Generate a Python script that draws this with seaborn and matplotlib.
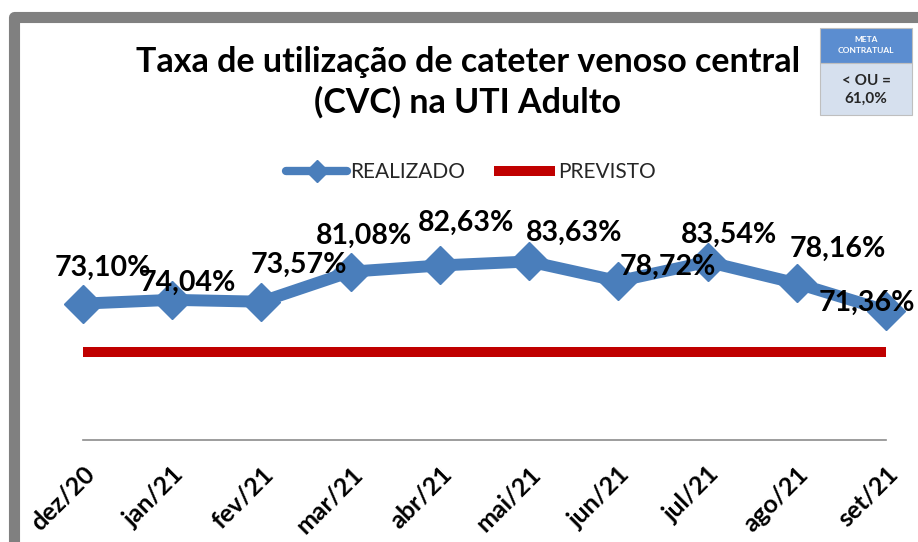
import matplotlib
matplotlib.use("Agg")
import matplotlib.pyplot as plt
from matplotlib.patches import Rectangle
import pandas as pd
import seaborn as sns

meses = ["dez/20", "jan/21", "fev/21", "mar/21", "abr/21", "mai/21",
         "jun/21", "jul/21", "ago/21", "set/21"]
realizado = [73.10, 74.04, 73.57, 81.08, 82.63, 83.63, 78.72, 83.54, 78.16, 71.36]
previsto = [61.0, 61.0, 61.0, 61.0, 61.0, 61.0, 61.0, 61.0, 61.0, 61.0]
titulo = "Taxa de utilização de cateter venoso central\n(CVC) na UTI Adulto"
meta_cab = "META\nCONTRATUAL"
meta_val = "< OU =\n61,0%"

# deslocamento dos rotulos em pixels (x para direita, y para baixo)
rot_dx = [20, 16, 37, 13, 26, 45, 49, 21, 41, -19]
rot_dy = [-36, -17, -37, -36, -43, -29, -14, -27, -35, -8]

AZUL = "#4A7EBB"
VERMELHO = "#C00000"
W, H = 918, 542

sns.set_theme(style="white")
plt.rcParams["font.family"] = ["Lato", "DejaVu Sans"]

df = pd.DataFrame({"mes": meses, "realizado": realizado, "previsto": previsto})

fig = plt.figure(figsize=(W / 100, H / 100), dpi=100)
ax = fig.add_axes([83 / W, (H - 440) / H, 803 / W, 240 / H])

sns.lineplot(data=df, x="mes", y="previsto", color=VERMELHO, linewidth=7.2,
             solid_capstyle="butt", sort=False, ax=ax, label="PREVISTO")
sns.lineplot(data=df, x="mes", y="realizado", color=AZUL, linewidth=8.6,
             marker="D", markersize=19, markeredgecolor=AZUL, markeredgewidth=1,
             sort=False, ax=ax, label="REALIZADO")
for ln in ax.lines:
    ln.set_clip_on(False)

for i, v in enumerate(realizado):
    txt = f"{v:.2f}".replace(".", ",") + "%"
    ax.annotate(txt, (i, v), xytext=(rot_dx[i] * 0.72, -rot_dy[i] * 0.72),
                textcoords="offset points", ha="center", va="center",
                fontsize=20.5, fontweight="bold", color="black", annotation_clip=False)

ax.set_xlim(0, len(meses) - 1)
ax.set_ylim(39, 99)
ax.set_xlabel("")
ax.set_ylabel("")
ax.set_yticks([])
for s in ["top", "left", "right"]:
    ax.spines[s].set_visible(False)
ax.spines["bottom"].set_color("#8C8C8C")
ax.spines["bottom"].set_linewidth(1.2)
ax.tick_params(axis="x", length=0, pad=16)
ax.set_xticks(range(len(meses)))
ax.set_xticklabels(meses, rotation=45, ha="right", va="top", rotation_mode="anchor",
                   fontsize=18, fontweight="bold", color="black")
ax.patch.set_alpha(0)

# legenda
h, l = ax.get_legend_handles_labels()
ordem = [l.index("REALIZADO"), l.index("PREVISTO")]
leg = fig.legend([h[k] for k in ordem], [l[k] for k in ordem], ncol=2, frameon=False,
                 loc="center", bbox_to_anchor=(471 / W, 1 - 172 / H),
                 fontsize=15, handlelength=2.9, handletextpad=0.15, columnspacing=1.4)
if ax.get_legend():
    ax.get_legend().remove()
hs = leg.legend_handles
hs[0].set_markersize(11)
hs[0].set_linewidth(6)
hs[1].set_linewidth(7.2)

# titulo
fig.text(468 / W, 1 - 46 / H, titulo, ha="center", va="top", fontsize=24.5,
         fontweight="bold", color="black", linespacing=1.3)

# moldura cinza
fig.patches.append(Rectangle((14 / W, -4 / H), 940 / W, (H + 4 - 17) / H,
                             transform=fig.transFigure, fill=False,
                             edgecolor="#808080", linewidth=8, joinstyle="round"))

# quadro meta
fig.patches.append(Rectangle((820 / W, 1 - 63 / H), 92 / W, 35 / H,
                             transform=fig.transFigure, facecolor="#5B8DD0",
                             edgecolor="#BFBFBF", linewidth=0.8))
fig.patches.append(Rectangle((820 / W, 1 - 115 / H), 92 / W, 52 / H,
                             transform=fig.transFigure, facecolor="#D6E0EE",
                             edgecolor="#BFBFBF", linewidth=0.8))
fig.text(866 / W, 1 - 45 / H, meta_cab, ha="center", va="center", fontsize=6,
         fontweight="bold", color="white", linespacing=1.6)
fig.text(866 / W, 1 - 90 / H, meta_val, ha="center", va="center", fontsize=11,
         fontweight="bold", color="#262626", linespacing=1.4)

fig.savefig("out.png", dpi=100, facecolor="white")
